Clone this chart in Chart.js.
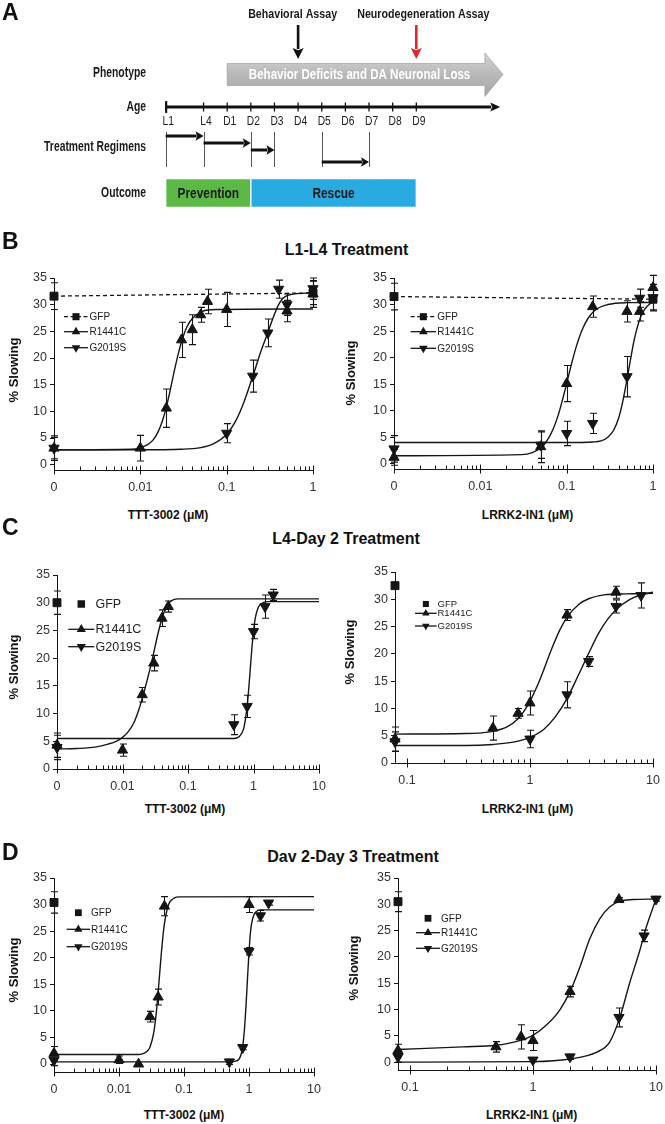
<!DOCTYPE html>
<html><head><meta charset="utf-8">
<script src="https://cdn.jsdelivr.net/npm/chart.js@4.4.1/dist/chart.umd.min.js"></script>
<style>
html,body{margin:0;padding:0;background:#fff;}
#fig{position:relative;width:665px;height:1124px;overflow:hidden;font-family:"Liberation Sans",Arial,sans-serif;color:#111;}
.t{position:absolute;white-space:nowrap;transform:translate(-50%,-50%);line-height:1;}
.letter{font-weight:bold;font-size:23px;transform:translate(0,-50%);}
.ptitle{font-weight:bold;font-size:16px;}
.xt{font-weight:bold;font-size:12px;}
.yt{font-weight:bold;font-size:13px;transform:translate(-50%,-50%) rotate(-90deg);}
canvas{position:absolute;}
</style></head>
<body><div id="fig"></div>
<script>
// ---------------- DATA ----------------
// Panel A (schematic)
const ageLabels = ['L1','L4','D1','D2','D3','D4','D5','D6','D7','D8','D9'];
const agePos = [0, 1.6, 2.6, 3.6, 4.6, 5.6, 6.6, 7.6, 8.6, 9.6, 10.6];
const rowLabels = ['Phenotype','Age','Treatment Regimens','Outcome'];
const regimenStart = ['L1','L4','D2','D5'];
const regimenEnd = ['L4','D2','D3','D7'];
const outcomeLabels = ['Prevention','Rescue'];
const outcomeStart = ['L1','D2'];
const outcomeEnd = ['D2','D9'];
const assayLabels = ['Behavioral Assay','Neurodegeneration Assay'];
const assayAge = ['D4','D9'];
const phenotypeLabel = 'Behavior Deficits and DA Neuronal Loss';
const phenotypeStart = 'D1';

// shared axis ticks / labels
const seriesNames = ['GFP','R1441C','G2019S'];
const yTickValues = [0,5,10,15,20,25,30,35];
const yTickLabels = ['0','5','10','15','20','25','30','35'];
const xMajorsB = [0.001, 0.01, 0.1, 1];
const xLabelsB = ['0','0.01','0.1','1'];
const xMajorsTTT = [0.001, 0.01, 0.1, 1, 10];
const xLabelsTTT = ['0','0.01','0.1','1','10'];
const xMajorsLRRK = [0.1, 1, 10];
const xLabelsLRRK = ['0.1','1','10'];

// Panel B left: L1-L4, TTT-3002
const b1GfpX = [0.001, 1];
const b1GfpY = [31.6, 32.2];
const b1GfpE = [2.5, 2.2];
const b1RX = [0.001, 0.01, 0.02, 0.03, 0.04, 0.05, 0.06, 0.1, 0.5, 1];
const b1RY = [3.1, 3.1, 10.6, 23.4, 25.3, 28.1, 30.6, 29.1, 28.8, 32.0];
const b1RE = [2.3, 2.4, 3.6, 3.3, 2.8, 1.4, 2.3, 3.2, 2.0, 2.5];
const b1GX = [0.001, 0.1, 0.2, 0.3, 0.4, 0.5, 1];
const b1GY = [3.1, 5.9, 16.6, 24.7, 32.9, 30.0, 33.0];
const b1GE = [2.0, 1.8, 3.0, 2.6, 1.7, 2.0, 2.0];
const b1RFitX = [0.001, 0.008, 0.01, 0.012, 0.014, 0.016, 0.018, 0.02, 0.022, 0.025, 0.028, 0.031, 0.035, 0.04, 0.05, 0.06, 0.08, 1];
const b1RFitY = [2.8, 2.9, 3.2, 3.7, 4.6, 6.1, 8.2, 10.8, 13.7, 17.9, 21.3, 23.8, 26.0, 27.4, 28.6, 29.0, 29.1, 29.2];
const b1GFitX = [0.001, 0.01, 0.03, 0.05, 0.07, 0.1, 0.13, 0.16, 0.2, 0.25, 0.3, 0.35, 0.4, 0.45, 0.5, 0.6, 1];
const b1GFitY = [2.8, 2.8, 2.9, 3.2, 3.9, 5.7, 8.5, 11.9, 16.5, 21.3, 24.8, 27.8, 30.0, 31.2, 31.7, 32.0, 32.2];

// Panel B right: L1-L4, LRRK2-IN1
const b2GfpX = [0.001, 1];
const b2GfpY = [31.5, 31.0];
const b2GfpE = [2.5, 2.0];
const b2RX = [0.001, 0.05, 0.1, 0.2, 0.5, 0.7, 1];
const b2RY = [1.2, 3.2, 15.1, 29.6, 28.7, 28.7, 33.2];
const b2RE = [1.5, 3.0, 3.4, 2.0, 2.0, 1.8, 2.3];
const b2GX = [0.001, 0.05, 0.1, 0.2, 0.5, 0.7, 1];
const b2GY = [2.8, 3.5, 5.7, 7.6, 16.4, 31.2, 31.3];
const b2GE = [2.5, 2.5, 2.3, 1.9, 3.8, 1.7, 2.5];
const b2RFitX = [0.001, 0.03, 0.04, 0.05, 0.06, 0.07, 0.08, 0.09, 0.1, 0.115, 0.13, 0.15, 0.18, 0.22, 0.3, 0.5, 1];
const b2RFitY = [1.5, 1.7, 2.1, 3.0, 4.5, 6.6, 9.2, 12.2, 15.1, 19.1, 22.2, 25.1, 27.6, 29.1, 30.0, 30.35, 30.4];
const b2GFitX = [0.001, 0.1, 0.2, 0.25, 0.3, 0.35, 0.4, 0.45, 0.5, 0.55, 0.6, 0.65, 0.72, 0.8, 0.9, 1];
const b2GFitY = [4.0, 4.0, 4.1, 4.3, 5.0, 6.3, 8.6, 12.0, 15.9, 19.7, 23.0, 25.4, 27.7, 29.1, 30.0, 30.5];

// Panel C left: L4-Day 2, TTT-3002
const c1GfpX = [0.001];
const c1GfpY = [30.0];
const c1GfpE = [2.1];
const c1RX = [0.001, 0.01, 0.02, 0.03, 0.04, 0.05];
const c1RY = [4.3, 3.4, 13.4, 19.1, 27.2, 29.3];
const c1RE = [2.2, 1.1, 1.3, 1.4, 1.5, 1.0];
const c1GX = [0.001, 0.5, 0.8, 1, 1.5, 2];
const c1GY = [3.9, 8.0, 11.3, 24.8, 29.3, 31.4];
const c1GE = [2.2, 1.8, 2.0, 1.3, 2.1, 1.0];
const c1RFitX = [0.001, 0.002, 0.004, 0.006, 0.008, 0.01, 0.012, 0.015, 0.018, 0.021, 0.024, 0.027, 0.03, 0.034, 0.038, 0.042, 0.047, 0.055, 0.07, 10];
const c1RFitY = [3.6, 3.7, 4.0, 4.5, 5.0, 5.7, 6.6, 8.4, 10.9, 13.6, 16.2, 18.6, 21.0, 23.9, 26.2, 27.9, 29.3, 30.3, 30.7, 30.7];
const c1GFitX = [0.001, 0.5, 0.6, 0.7, 0.75, 0.8, 0.85, 0.9, 0.95, 1.0, 1.05, 1.1, 1.2, 1.4, 1.7, 10];
const c1GFitY = [5.5, 5.5, 5.8, 7.1, 8.8, 11.3, 14.8, 18.6, 22.1, 24.8, 26.8, 28.0, 29.3, 30.0, 30.2, 30.2];

// Panel C right: L4-Day 2, LRRK2-IN1
const c2GfpX = [0.08];
const c2GfpY = [32.5];
const c2GfpE = [0];
const c2RX = [0.08, 0.5, 0.8, 1, 2, 5];
const c2RY = [4.4, 6.4, 9.1, 11.0, 27.1, 31.3];
const c2RE = [2.2, 2.2, 0.9, 2.2, 1.0, 1.1];
const c2GX = [0.08, 1, 2, 3, 5, 8];
const c2GY = [3.9, 4.4, 12.5, 18.6, 28.7, 30.7];
const c2GE = [1.8, 1.6, 2.4, 0.9, 1.2, 2.3];
const c2RFitX = [0.08, 0.3, 0.5, 0.65, 0.8, 0.9, 1.0, 1.15, 1.3, 1.5, 1.75, 2.0, 2.5, 3.0, 4.0, 6.0, 10];
const c2RFitY = [5.3, 5.4, 5.8, 6.6, 8.1, 9.6, 11.3, 14.2, 17.2, 20.9, 24.4, 26.7, 29.1, 30.1, 30.8, 31.0, 31.1];
const c2GFitX = [0.08, 0.3, 0.5, 0.8, 1.0, 1.3, 1.6, 2.0, 2.5, 3.0, 3.6, 4.3, 5.0, 6.5, 8.0, 10];
const c2GFitY = [3.2, 3.2, 3.4, 4.0, 4.7, 6.2, 8.4, 11.8, 16.3, 20.1, 23.7, 26.4, 28.1, 30.0, 30.8, 31.3];

// Panel D left: Day 2-Day 3, TTT-3002
const d1GfpX = [0.001];
const d1GfpY = [30.4];
const d1GfpE = [2.0];
const d1RX = [0.001, 0.01, 0.02, 0.03, 0.04, 0.05, 1];
const d1RY = [2.0, 0.8, 0.0, 8.9, 12.6, 29.7, 30.0];
const d1RE = [1.3, 0.7, 0, 1.0, 1.5, 1.8, 1.5];
const d1GX = [0.001, 0.5, 0.8, 1, 1.5, 2];
const d1GY = [0.7, 0.4, 3.1, 21.2, 27.9, 30.3];
const d1GE = [1.0, 0.5, 0.4, 0.7, 1.0, 0.4];
const d1RFitX = [0.001, 0.015, 0.02, 0.025, 0.028, 0.03, 0.034, 0.037, 0.04, 0.043, 0.046, 0.05, 0.055, 0.06, 0.07, 0.085, 10];
const d1RFitY = [1.8, 1.8, 1.8, 2.1, 2.6, 3.2, 5.7, 9.0, 13.5, 18.2, 22.4, 26.4, 29.1, 30.4, 31.2, 31.45, 31.5];
const d1GFitX = [0.001, 0.5, 0.6, 0.7, 0.75, 0.8, 0.85, 0.9, 0.95, 1.0, 1.05, 1.1, 1.2, 1.3, 1.5, 10];
const d1GFitY = [0.4, 0.4, 0.5, 0.9, 1.7, 3.3, 6.4, 11.0, 16.3, 21.0, 24.6, 26.5, 28.2, 28.7, 29.0, 29.0];

// Panel D right: Day 2-Day 3, LRRK2-IN1
const d2GfpX = [0.08];
const d2GfpY = [30.5];
const d2GfpE = [1.9];
const d2RX = [0.08, 0.5, 0.8, 1, 2, 5];
const d2RY = [2.2, 2.9, 4.8, 4.1, 13.4, 30.9];
const d2RE = [1.2, 1.0, 2.3, 1.9, 1.0, 0.4];
const d2GX = [0.08, 1, 2, 5, 8, 10];
const d2GY = [1.0, 0.4, 1.0, 8.5, 24.0, 31.0];
const d2GE = [1.0, 0.3, 0.5, 1.8, 1.1, 0.4];
const d2RFitX = [0.08, 0.27, 0.5, 0.73, 1, 1.28, 1.65, 2, 2.4, 2.9, 3.5, 4.2, 5.1, 6.5, 10];
const d2RFitY = [2.4, 2.9, 3.2, 3.9, 5.1, 7.0, 9.9, 13.4, 18.0, 23.5, 27.3, 29.5, 30.6, 30.9, 31.0];
const d2GFitX = [0.08, 1, 2, 3.3, 4.2, 5.1, 6.1, 7.4, 8.2, 10];
const d2GFitY = [0.0, 0.1, 0.6, 1.9, 3.8, 8.6, 15.0, 21.3, 25.1, 31.0];

// ---------------- RENDERING ----------------
Chart.defaults.font.family = '"Liberation Sans", Arial, sans-serif';
Chart.defaults.color = '#333';
const INK = '#151515';
const fig = document.getElementById('fig');

function addCanvas(left, top, w, h) {
  const c = document.createElement('canvas');
  c.width = w; c.height = h;
  c.style.left = left + 'px'; c.style.top = top + 'px';
  c.style.width = w + 'px'; c.style.height = h + 'px';
  fig.appendChild(c);
  return c;
}
function addText(cls, text, x, y) {
  const d = document.createElement('div');
  d.className = 't ' + cls; d.textContent = text;
  d.style.left = x + 'px'; d.style.top = y + 'px';
  fig.appendChild(d);
}
const pts = (xs, ys) => xs.map((x, i) => ({ x: x, y: ys[i] }));

function narrowText(ctx, str, x, y, font, align, sx, color) {
  ctx.save();
  ctx.translate(x, y); ctx.scale(sx, 1);
  ctx.font = font; ctx.textAlign = align; ctx.textBaseline = 'middle';
  ctx.fillStyle = color; ctx.fillText(str, 0, 0);
  ctx.restore();
}
function arrowH(ctx, x1, x2, y, lw, hl, hw, color) {
  ctx.save(); ctx.strokeStyle = color; ctx.fillStyle = color; ctx.lineWidth = lw;
  ctx.beginPath(); ctx.moveTo(x1, y); ctx.lineTo(x2 - hl + 1, y); ctx.stroke();
  ctx.beginPath(); ctx.moveTo(x2, y); ctx.lineTo(x2 - hl, y - hw); ctx.lineTo(x2 - hl * 0.8, y); ctx.lineTo(x2 - hl, y + hw); ctx.closePath(); ctx.fill();
  ctx.restore();
}
function arrowV(ctx, x, y1, y2, lw, hl, hw, color) {
  ctx.save(); ctx.strokeStyle = color; ctx.fillStyle = color; ctx.lineWidth = lw;
  ctx.beginPath(); ctx.moveTo(x, y1); ctx.lineTo(x, y2 - hl + 1); ctx.stroke();
  ctx.beginPath(); ctx.moveTo(x, y2); ctx.lineTo(x - hw, y2 - hl); ctx.lineTo(x, y2 - hl * 0.8); ctx.lineTo(x + hw, y2 - hl); ctx.closePath(); ctx.fill();
  ctx.restore();
}

// ---- Panel A ----
(function () {
  const cv = addCanvas(0, 0, 665, 215);
  const ageAt = lab => agePos[ageLabels.indexOf(lab)];
  const style = {
    labelRight: 146, ageNudge: -6, treatNudge: -6,
    regimenDy: [-11, -4, 3, 15], assayDx: [-5.5, 7],
    ageEnd: 14.15, phenoHead: 13.5, phenoTip: 14.27, phenoTextX: 8.2
  };
  const schematic = {
    id: 'schematic',
    beforeDatasetsDraw(chart) {
      const ctx = chart.ctx, xs = chart.scales.x, ys = chart.scales.y;
      const X = lab => xs.getPixelForValue(ageAt(lab));
      const yPh = ys.getPixelForValue(0);
      const yAge = ys.getPixelForValue(1) + style.ageNudge;
      const yTr = ys.getPixelForValue(2) + style.treatNudge;
      const yOut = ys.getPixelForValue(3);
      const rowY = [yPh, yAge, yTr, yOut];
      rowLabels.forEach((l, i) => narrowText(ctx, l, style.labelRight, rowY[i] + 0.5, 'bold 14px "Liberation Sans", Arial', 'right', 0.74, '#1a1a1a'));

      // phenotype arrow
      const x0 = X(phenotypeStart), xh = xs.getPixelForValue(style.phenoHead), xt = xs.getPixelForValue(style.phenoTip);
      const yc = yPh + 1.5;
      ctx.save();
      ctx.beginPath();
      ctx.moveTo(x0, yc - 11); ctx.lineTo(xh, yc - 11); ctx.lineTo(xh, yc - 21.5); ctx.lineTo(xt, yc);
      ctx.lineTo(xh, yc + 22); ctx.lineTo(xh, yc + 11); ctx.lineTo(x0, yc + 11); ctx.closePath();
      const g = ctx.createLinearGradient(0, yc - 21, 0, yc + 22);
      g.addColorStop(0, '#d4d4d4'); g.addColorStop(0.45, '#bababa'); g.addColorStop(1, '#a6a6a6');
      ctx.fillStyle = g; ctx.fill();
      ctx.strokeStyle = 'rgba(150,150,150,0.6)'; ctx.lineWidth = 1; ctx.stroke();
      ctx.restore();
      narrowText(ctx, phenotypeLabel, xs.getPixelForValue(style.phenoTextX), yc, 'bold 15px "Liberation Sans", Arial', 'center', 0.77, '#ffffff');

      // assay arrows
      assayLabels.forEach((l, i) => {
        const ax = X(assayAge[i]);
        narrowText(ctx, l, ax + style.assayDx[i], yPh - 59, 'bold 13.5px "Liberation Sans", Arial', 'center', 0.79, '#1a1a1a');
        arrowV(ctx, ax, yPh - 48, yPh - 14, 2.6, 11, 5.5, i === 0 ? '#111' : '#e3262b');
      });

      // age axis
      const xA0 = X('L1'), xA1 = xs.getPixelForValue(style.ageEnd);
      arrowH(ctx, xA0, xA1, yAge, 3, 10, 4.5, '#111');
      ctx.save(); ctx.strokeStyle = '#111';
      ctx.lineWidth = 2; ctx.beginPath(); ctx.moveTo(xA0 + 0.5, yAge - 6); ctx.lineTo(xA0 + 0.5, yAge + 6); ctx.stroke();
      ctx.lineWidth = 1.3;
      ageLabels.forEach((l, i) => {
        const px = xs.getPixelForValue(agePos[i]);
        ctx.beginPath(); ctx.moveTo(px, yAge - 4.5); ctx.lineTo(px, yAge + 4.5); ctx.stroke();
        narrowText(ctx, l, px + 2.5, yAge + 15, '12.5px "Liberation Sans", Arial', 'center', 0.82, '#1a1a1a');
      });
      ctx.restore();

      // regimens
      ctx.save(); ctx.strokeStyle = '#555'; ctx.lineWidth = 1;
      const verts = [];
      regimenStart.forEach((s, i) => { verts.push(s); verts.push(regimenEnd[i]); });
      [...new Set(verts)].forEach(l => {
        const px = Math.round(X(l)) + 0.5;
        ctx.beginPath(); ctx.moveTo(px, yTr - 15); ctx.lineTo(px, yTr + 20); ctx.stroke();
      });
      ctx.restore();
      regimenStart.forEach((s, i) => arrowH(ctx, X(s), X(regimenEnd[i]), yTr + style.regimenDy[i], 3, 8, 4.8, '#111'));
    },
    afterDatasetsDraw(chart) {
      const ctx = chart.ctx, xs = chart.scales.x, ys = chart.scales.y;
      const yOut = ys.getPixelForValue(3);
      outcomeLabels.forEach((l, i) => {
        const xm = (xs.getPixelForValue(ageAt(outcomeStart[i])) + xs.getPixelForValue(ageAt(outcomeEnd[i]))) / 2;
        narrowText(ctx, l, xm, yOut + 1, 'bold 14.5px "Liberation Sans", Arial', 'center', 0.82, '#1a1a1a');
      });
    }
  };
  new Chart(cv, {
    type: 'bar',
    data: {
      labels: rowLabels,
      datasets: [{
        data: outcomeLabels.map((l, i) => ({ x: [ageAt(outcomeStart[i]), ageAt(outcomeEnd[i])], y: 'Outcome' })),
        backgroundColor: ['#5cb946', '#29abe2'],
        borderColor: '#ffffff', borderWidth: 1, borderSkipped: false,
        barThickness: 29, clip: false
      }]
    },
    options: {
      indexAxis: 'y', responsive: false, animation: false, events: [], devicePixelRatio: 1,
      layout: { padding: { top: 73, bottom: 22, left: 0, right: 0 } },
      scales: {
        x: { type: 'linear', min: -7.01, max: 21.12, display: false },
        y: { type: 'category', offset: false, display: false }
      },
      plugins: { legend: { display: false }, tooltip: { enabled: false } }
    },
    plugins: [schematic]
  });
})();

// ---- dose-response charts ----
const errorBars = {
  id: 'errorBars',
  afterDatasetsDraw(chart) {
    const ctx = chart.ctx, ys = chart.scales.y;
    chart.data.datasets.forEach((ds, di) => {
      if (!ds.errors) return;
      const meta = chart.getDatasetMeta(di);
      meta.data.forEach((p, i) => {
        const e = ds.errors[i]; if (!e) return;
        const v = ds.data[i].y;
        const yT = ys.getPixelForValue(v + e), yB = ys.getPixelForValue(v - e);
        const x = Math.round(p.x) + 0.5;
        ctx.save(); ctx.strokeStyle = INK; ctx.lineWidth = 1.1;
        ctx.beginPath();
        ctx.moveTo(x, yT); ctx.lineTo(x, yB);
        ctx.moveTo(x - 3.5, yT); ctx.lineTo(x + 3.5, yT);
        ctx.moveTo(x - 3.5, yB); ctx.lineTo(x + 3.5, yB);
        ctx.stroke(); ctx.restore();
      });
    });
  }
};
const logAxisTicks = {
  id: 'logAxisTicks',
  afterDraw(chart) {
    const xs = chart.scales.x, ctx = chart.ctx, yb = chart.chartArea.bottom;
    ctx.save(); ctx.strokeStyle = INK; ctx.lineWidth = 1;
    xs.ticks.forEach(t => {
      const px = Math.round(xs.getPixelForValue(t.value)) + 0.5;
      ctx.beginPath();
      if (t.isMaj) { ctx.moveTo(px, yb - 4.5); ctx.lineTo(px, yb + 4.5); }
      else { ctx.moveTo(px, yb - 3.5); ctx.lineTo(px, yb); }
      ctx.stroke();
    });
    ctx.restore();
  }
};
function logTicks(min, max, majors) {
  const out = [];
  let d = Math.pow(10, Math.floor(Math.log10(min) + 1e-9));
  while (d <= max * 1.0001) {
    for (let k = 1; k <= 9; k++) {
      const v = +(k * d).toPrecision(6);
      if (v < majors[0] * 0.9999 || v > max * 1.0001 || v < min * 0.9999) continue;
      out.push({ value: v, isMaj: majors.some(m => Math.abs(m - v) / m < 1e-6) });
    }
    d *= 10;
  }
  return out;
}
function marker(ctx, style, rot, x, y, r) {
  ctx.beginPath();
  if (style === 'rect') { const s = r * Math.SQRT1_2; ctx.rect(x - s, y - s, 2 * s, 2 * s); }
  else {
    const d = rot ? -1 : 1;
    ctx.moveTo(x, y - d * r); ctx.lineTo(x + r * 0.866, y + d * r / 2); ctx.lineTo(x - r * 0.866, y + d * r / 2); ctx.closePath();
  }
  ctx.fill();
}
function makeLegend(leg) {
  return {
    id: 'insetLegend',
    afterDatasetsDraw(chart) {
      const ctx = chart.ctx, a = chart.chartArea;
      const styles = [['rect', 0], ['triangle', 0], ['triangle', 180]];
      ctx.save();
      seriesNames.forEach((name, i) => {
        const y = a.top + leg.rows[i], x0 = a.left + leg.x0, x1 = a.left + leg.x1, xm = (x0 + x1) / 2;
        ctx.strokeStyle = INK; ctx.fillStyle = INK; ctx.lineWidth = 1.3;
        if (i > 0 || leg.gfpLine) {
          ctx.setLineDash(i === 0 ? [4, 2.5] : []);
          ctx.beginPath(); ctx.moveTo(x0, y); ctx.lineTo(x1, y); ctx.stroke();
          ctx.setLineDash([]);
        }
        marker(ctx, styles[i][0], styles[i][1], xm, y, leg.mr);
        ctx.font = leg.size + 'px "Liberation Sans", Arial';
        ctx.textAlign = 'left'; ctx.textBaseline = 'middle'; ctx.fillStyle = '#222';
        ctx.fillText(name, a.left + leg.tx, y + 0.5);
      });
      ctx.restore();
    }
  };
}
function doseChart(box, yMin, xMin, xMax, majors, labels, d, leg) {
  const W = 50, H = 32, PT = 12, PR = 16;
  const cv = addCanvas(box.l - W, box.t - PT, box.r - box.l + W + PR, box.b - box.t + PT + H);
  const fit = (xs, ys) => ({ data: pts(xs, ys), showLine: true, borderColor: INK, borderWidth: 1.4, pointRadius: 0, cubicInterpolationMode: 'monotone', clip: false });
  const mk = (xs, ys, es, st, rot, extra) => Object.assign({
    data: pts(xs, ys), errors: es, showLine: false, pointStyle: st, pointRotation: rot, pointRadius: st === 'rect' ? 5.6 : 5.9,
    pointBackgroundColor: INK, pointBorderColor: INK, pointBorderWidth: 1, borderColor: INK, clip: false
  }, extra || {});
  const datasets = [
    mk(d.gfpX, d.gfpY, d.gfpE, 'rect', 0, d.gfpDashed ? { showLine: true, borderDash: [4, 3], borderWidth: 1.3 } : null),
    mk(d.rX, d.rY, d.rE, 'triangle', 0),
    mk(d.gX, d.gY, d.gE, 'triangle', 180),
    fit(d.rFitX, d.rFitY), fit(d.gFitX, d.gFitY)
  ];
  new Chart(cv, {
    type: 'scatter',
    data: { datasets },
    options: {
      responsive: false, animation: false, events: [], devicePixelRatio: 1,
      layout: { padding: { top: PT, right: PR, left: 0, bottom: 0 } },
      scales: {
        x: {
          type: 'logarithmic', min: xMin, max: xMax,
          afterBuildTicks: s => { s.ticks = logTicks(xMin, xMax, majors); },
          afterFit: s => { s.height = H; },
          ticks: {
            autoSkip: false, maxRotation: 0, minRotation: 0, padding: 5, font: { size: 12.5 }, color: '#333',
            callback: v => { const i = majors.findIndex(m => Math.abs(m - v) / m < 1e-6); return i >= 0 ? labels[i] : ''; }
          },
          grid: { display: true, drawOnChartArea: false, drawTicks: true, tickLength: 5, color: 'rgba(0,0,0,0)' },
          border: { display: true, color: INK, width: 1 }
        },
        y: {
          type: 'linear', min: yMin, max: 35,
          afterBuildTicks: s => { s.ticks = yTickValues.map(v => ({ value: v })); },
          afterFit: s => { s.width = W; },
          ticks: { padding: 3, font: { size: 12.5 }, color: '#333', callback: v => yTickLabels[yTickValues.indexOf(v)] },
          grid: { display: true, drawOnChartArea: false, drawTicks: true, tickLength: 4, color: INK },
          border: { display: true, color: INK, width: 1 }
        }
      },
      plugins: { legend: { display: false }, tooltip: { enabled: false } }
    },
    plugins: [errorBars, logAxisTicks, makeLegend(leg)]
  });
}

doseChart({ l: 54, r: 313, t: 278, b: 470 }, -1, 0.001, 1, xMajorsB, xLabelsB,
  { gfpX: b1GfpX, gfpY: b1GfpY, gfpE: b1GfpE, gfpDashed: true, rX: b1RX, rY: b1RY, rE: b1RE, gX: b1GX, gY: b1GY, gE: b1GE,
    rFitX: b1RFitX, rFitY: b1RFitY, gFitX: b1GFitX, gFitY: b1GFitY },
  { rows: [38.7, 53.7, 69.7], x0: 10, x1: 34, tx: 35.5, size: 10, mr: 5, gfpLine: true });
doseChart({ l: 394, r: 653, t: 278, b: 469 }, -1, 0.001, 1, xMajorsB, xLabelsB,
  { gfpX: b2GfpX, gfpY: b2GfpY, gfpE: b2GfpE, gfpDashed: true, rX: b2RX, rY: b2RY, rE: b2RE, gX: b2GX, gY: b2GY, gE: b2GE,
    rFitX: b2RFitX, rFitY: b2RFitY, gFitX: b2GFitX, gFitY: b2GFitY },
  { rows: [38.7, 53.7, 70.3], x0: 16.7, x1: 42, tx: 43.3, size: 10, mr: 5, gfpLine: true });
doseChart({ l: 57, r: 319, t: 575, b: 769 }, 0, 0.001, 10, xMajorsTTT, xLabelsTTT,
  { gfpX: c1GfpX, gfpY: c1GfpY, gfpE: c1GfpE, rX: c1RX, rY: c1RY, rE: c1RE, gX: c1GX, gY: c1GY, gE: c1GE,
    rFitX: c1RFitX, rFitY: c1RFitY, gFitX: c1GFitX, gFitY: c1GFitY },
  { rows: [29, 54.3, 71.7], x0: 11.3, x1: 37.3, tx: 38.5, size: 12.5, mr: 5.3, gfpLine: false });
doseChart({ l: 395, r: 653, t: 572, b: 763 }, 0, 0.08, 10, xMajorsLRRK, xLabelsLRRK,
  { gfpX: c2GfpX, gfpY: c2GfpY, gfpE: c2GfpE, rX: c2RX, rY: c2RY, rE: c2RE, gX: c2GX, gY: c2GY, gE: c2GE,
    rFitX: c2RFitX, rFitY: c2RFitY, gFitX: c2GFitX, gFitY: c2GFitY },
  { rows: [32, 41.3, 54], x0: 20, x1: 41.7, tx: 42.5, size: 9.5, mr: 4.3, gfpLine: false });
doseChart({ l: 54, r: 314, t: 878, b: 1072 }, -1.5, 0.001, 10, xMajorsTTT, xLabelsTTT,
  { gfpX: d1GfpX, gfpY: d1GfpY, gfpE: d1GfpE, rX: d1RX, rY: d1RY, rE: d1RE, gX: d1GX, gY: d1GY, gE: d1GE,
    rFitX: d1RFitX, rFitY: d1RFitY, gFitX: d1GFitX, gFitY: d1GFitY },
  { rows: [34.7, 51.3, 68.7], x0: 12.7, x1: 36, tx: 37, size: 10, mr: 4.8, gfpLine: false });
doseChart({ l: 398, r: 656, t: 878, b: 1070 }, -1.5, 0.08, 10, xMajorsLRRK, xLabelsLRRK,
  { gfpX: d2GfpX, gfpY: d2GfpY, gfpE: d2GfpE, rX: d2RX, rY: d2RY, rE: d2RE, gX: d2GX, gY: d2GY, gE: d2GE,
    rFitX: d2RFitX, rFitY: d2RFitY, gFitX: d2GFitX, gFitY: d2GFitY },
  { rows: [40.3, 54.7, 70.3], x0: 18, x1: 42, tx: 43, size: 10, mr: 4.8, gfpLine: false });

// ---- HTML text: panel letters, titles, axis titles ----
addText('letter', 'A', 2, 12);
addText('letter', 'B', 2, 241);
addText('letter', 'C', 2, 527);
addText('letter', 'D', 2, 852);
addText('ptitle', 'L1-L4 Treatment', 346.5, 250);
addText('ptitle', 'L4-Day 2 Treatment', 346, 539);
addText('ptitle', 'Dav 2-Day 3 Treatment', 353, 857);
addText('xt', 'TTT-3002 (\u03bcM)', 168, 515);
addText('xt', 'LRRK2-IN1 (\u03bcM)', 527.5, 515);
addText('xt', 'TTT-3002 (\u03bcM)', 185, 809);
addText('xt', 'LRRK2-IN1 (\u03bcM)', 527.5, 809);
addText('xt', 'TTT-3002 (\u03bcM)', 184, 1115);
addText('xt', 'LRRK2-IN1 (\u03bcM)', 531.7, 1115);
addText('yt', '% Slowing', 13, 370);
addText('yt', '% Slowing', 350, 373);
addText('yt', '% Slowing', 13, 667);
addText('yt', '% Slowing', 349, 652);
addText('yt', '% Slowing', 12.5, 970);
addText('yt', '% Slowing', 353, 968);
</script>
</body></html>
